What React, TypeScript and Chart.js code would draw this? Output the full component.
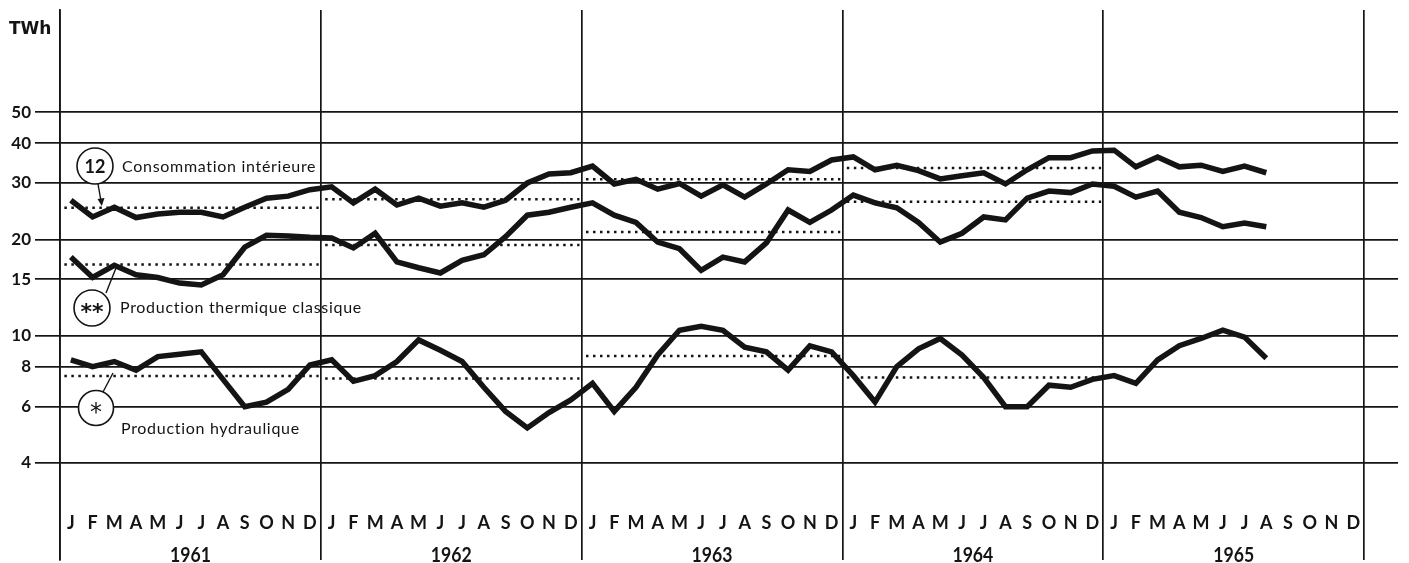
import React, { useEffect, useRef } from 'react';
import { Chart, registerables } from 'chart.js';
Chart.register(...registerables);

const monthLetters = ['J', 'F', 'M', 'A', 'M', 'J', 'J', 'A', 'S', 'O', 'N', 'D'];
const years = ['1961', '1962', '1963', '1964', '1965'];
const yTicks = [4, 6, 8, 10, 15, 20, 30, 40, 50];
const yearBoundaries = [-0.5, 11.5, 23.5, 35.5, 47.5, 59.5];

// Monthly values, Jan 1961 - Aug 1965 (TWh)
const consumption = [
  26.5, 23.5, 25.2, 23.4, 24.0, 24.3, 24.3, 23.5, 25.2, 26.9, 27.3, 28.6,
  29.2, 26.0, 28.7, 25.6, 26.9, 25.4, 26.0, 25.2, 26.5, 30.0, 32.0, 32.3,
  33.9, 29.8, 30.8, 28.7, 29.9, 27.3, 29.6, 27.1, 29.8, 33.0, 32.6, 35.4,
  36.2, 33.0, 34.1, 32.8, 30.9, 31.6, 32.3, 29.8, 33.0, 36.0, 36.0, 37.8,
  38.0, 33.7, 36.2, 33.7, 34.1, 32.6, 33.9, 32.3,
];
const thermal = [
  17.6, 15.2, 16.6, 15.5, 15.2, 14.6, 14.4, 15.5, 18.9, 20.6, 20.5, 20.3,
  20.2, 18.8, 20.9, 17.0, 16.3, 15.7, 17.2, 17.9, 20.4, 23.8, 24.3, 25.2,
  26.0, 23.8, 22.6, 19.6, 18.7, 16.0, 17.6, 17.0, 19.5, 24.7, 22.6, 24.7,
  27.5, 26.0, 25.1, 22.6, 19.6, 20.9, 23.5, 23.0, 26.9, 28.3, 28.0, 29.8,
  29.3, 27.1, 28.3, 24.3, 23.4, 21.9, 22.5, 21.9,
];
const hydro = [
  8.4, 8.0, 8.3, 7.8, 8.6, 8.75, 8.9, 7.3, 6.0, 6.2, 6.8, 8.1,
  8.4, 7.2, 7.5, 8.3, 9.7, 9.0, 8.3, 6.9, 5.8, 5.15, 5.75, 6.3,
  7.1, 5.8, 6.9, 8.7, 10.4, 10.7, 10.4, 9.2, 8.9, 7.8, 9.3, 8.9,
  7.5, 6.2, 8.0, 9.1, 9.8, 8.7, 7.4, 6.0, 6.0, 7.0, 6.9, 7.3,
  7.5, 7.1, 8.4, 9.3, 9.8, 10.4, 9.9, 8.5,
];
// Yearly averages 1961-1964 (dotted)
const consumptionAvg = [25.1, 26.7, 30.8, 33.4];
const thermalAvg = [16.7, 19.2, 21.1, 26.2];
const hydroAvg = [7.48, 7.35, 8.64, 7.4];

const INK = '#141414';

function lineDs(values: number[]) {
  return {
    data: values.map((v, i) => ({ x: i, y: v })),
    borderColor: INK,
    borderWidth: 5.5,
    pointRadius: 0,
    tension: 0,
    fill: false,
    borderJoinStyle: 'miter' as const,
    borderCapStyle: 'butt' as const,
  };
}

function avgDs(avgs: number[]) {
  return avgs.map((a, k) => ({
    data: [
      { x: 12 * k - 0.3, y: a },
      { x: 12 * k + 11.4, y: a },
    ],
    borderColor: INK,
    borderWidth: 2.5,
    borderDash: [2.5, 4.5],
    pointRadius: 0,
    fill: false,
  }));
}

const annotations = {
  id: 'annotations',
  afterDatasetsDraw(chart: any) {
    const ctx = chart.ctx as CanvasRenderingContext2D;
    const xs = chart.scales.x;
    ctx.save();
    ctx.fillStyle = INK;
    ctx.strokeStyle = INK;

    // Unit
    ctx.font = 'bold 17px "DejaVu Sans"';
    ctx.textAlign = 'left';
    ctx.textBaseline = 'alphabetic';
    ctx.fillText('TWh', 9, 34);

    // Month letters and years
    ctx.textAlign = 'center';
    ctx.font = 'bold 18px Lato';
    for (let y = 0; y < 5; y++) {
      for (let m = 0; m < 12; m++) {
        ctx.fillText(monthLetters[m], xs.getPixelForValue(12 * y + m), 529);
      }
    }
    ctx.font = 'bold 21px Lato';
    years.forEach((yr, k) => {
      const cx = xs.getPixelForValue(12 * k + 5.5);
      ctx.save();
      ctx.translate(cx, 562);
      ctx.scale(0.84, 1);
      ctx.fillText(yr, 0, 0);
      ctx.restore();
    });

    // Circles with connectors
    const circle = (cx: number, cy: number, r: number) => {
      ctx.beginPath();
      ctx.arc(cx, cy, r, 0, Math.PI * 2);
      ctx.fillStyle = '#ffffff';
      ctx.fill();
      ctx.lineWidth = 1.6;
      ctx.strokeStyle = INK;
      ctx.stroke();
      ctx.fillStyle = INK;
    };
    ctx.lineWidth = 1.4;
    // 12 arrow
    ctx.beginPath();
    ctx.moveTo(98, 184);
    ctx.lineTo(101, 201);
    ctx.stroke();
    ctx.beginPath();
    ctx.moveTo(97.5, 199);
    ctx.lineTo(104.5, 198);
    ctx.lineTo(101.8, 206);
    ctx.closePath();
    ctx.fill();
    // ** connector
    ctx.beginPath();
    ctx.moveTo(106, 293);
    ctx.lineTo(116, 268);
    ctx.stroke();
    // * connector
    ctx.beginPath();
    ctx.moveTo(103, 392);
    ctx.lineTo(113, 373);
    ctx.stroke();

    circle(95, 166, 18);
    circle(92, 308, 18);
    circle(96, 408, 17.5);

    ctx.textAlign = 'center';
    ctx.textBaseline = 'middle';
    ctx.font = 'bold 18px Lato';
    ctx.fillText('12', 95, 167);
    ctx.font = 'bold 22px "DejaVu Sans"';
    ctx.fillText('**', 92, 313);
    ctx.font = '24px "DejaVu Sans"';
    ctx.fillText('*', 96, 414);

    ctx.textAlign = 'left';
    ctx.textBaseline = 'alphabetic';
    ctx.font = '16px Lato';
    (ctx as any).letterSpacing = '0.7px';
    ctx.fillText('Consommation intérieure', 122, 172);
    ctx.fillText('Production thermique classique', 120, 313);
    ctx.fillText('Production hydraulique', 121, 434);
    (ctx as any).letterSpacing = '0px';
    ctx.restore();
  },
};

export default function App() {
  const ref = useRef<HTMLCanvasElement>(null);
  useEffect(() => {
    if (!ref.current) return;
    const chart = new Chart(ref.current, {
      type: 'line',
      data: {
        datasets: [
          lineDs(consumption),
          lineDs(thermal),
          lineDs(hydro),
          ...avgDs(consumptionAvg),
          ...avgDs(thermalAvg),
          ...avgDs(hydroAvg),
        ] as any,
      },
      options: {
        animation: false,
        responsive: false,
        maintainAspectRatio: false,
        layout: { padding: { top: 10, right: 11, bottom: 3, left: 0 } },
        plugins: { legend: { display: false }, tooltip: { enabled: false } },
        scales: {
          x: {
            type: 'linear',
            min: -0.5,
            max: 61.06,
            position: 'bottom',
            afterBuildTicks: (s: any) => {
              s.ticks = yearBoundaries.map((v) => ({ value: v }));
            },
            afterFit: (s: any) => {
              s.height = 0;
              s.paddingLeft = 0;
              s.paddingRight = 0;
            },
            ticks: { display: false },
            grid: { color: INK, lineWidth: 1.7, drawTicks: false },
            border: { display: false },
          },
          y: {
            type: 'logarithmic',
            min: 1.99,
            max: 104.2,
            bounds: 'data',
            afterBuildTicks: (s: any) => {
              s.ticks = yTicks.map((v) => ({ value: v }));
            },
            afterFit: (s: any) => {
              s.width = 60;
              s.paddingTop = 0;
              s.paddingBottom = 0;
            },
            ticks: {
              autoSkip: false,
              callback: (v: any) => String(v),
              color: INK,
              padding: 4,
              font: { family: 'Lato', weight: 'bold', size: 17 },
            },
            grid: { color: INK, lineWidth: 1.7, tickLength: 25, drawTicks: true },
            border: { display: true, color: INK, width: 1.7 },
          },
        },
      } as any,
      plugins: [annotations],
    });
    return () => chart.destroy();
  }, []);
  return (
    <div style={{ position: 'absolute', left: 0, top: 0, width: 1409, height: 563, background: '#fff' }}>
      <canvas ref={ref} width={1409} height={563} style={{ display: 'block' }} />
    </div>
  );
}
